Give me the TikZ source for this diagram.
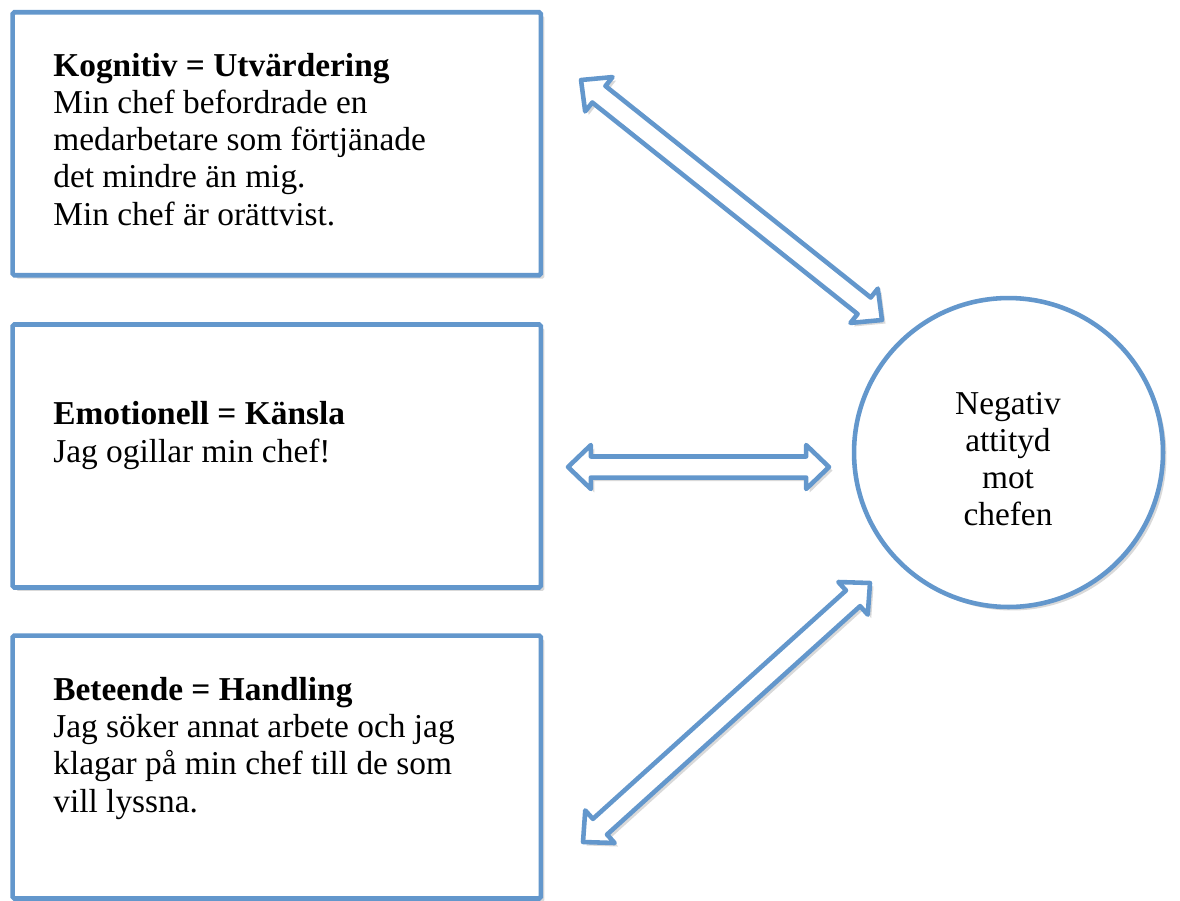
\documentclass[tikz,border=0pt]{standalone}
\usepackage{fontspec}
\setmainfont{Liberation Serif}
\usetikzlibrary{calc,shadows}
\definecolor{boxblue}{RGB}{99,151,204}
\tikzset{
  softshadow/.style={drop shadow={shadow xshift=2pt,shadow yshift=-2pt,opacity=0.3}},
  box/.style={draw=boxblue,line width=2.6pt,rounded corners=1pt,fill=white,
    minimum width=10.57cm,minimum height=5.26cm,softshadow},
  boxtext/.style={anchor=base west,align=left,inner sep=0pt,
    font=\fontsize{19}{21.2}\selectfont},
  attcircle/.style={circle,draw=boxblue,line width=2.6pt,fill=white,
    minimum size=6.18cm,softshadow},
  arrowline/.style={draw=boxblue,line width=2.6pt,fill=white,line join=round,softshadow}
}
% hollow double arrow between two named points
\newcommand{\blockarrow}[2]{%
  \coordinate (ha) at ($(#1)!13pt!(#2)$);
  \coordinate (hb) at ($(#2)!13pt!(#1)$);
  \draw[arrowline] (#1) -- ($(ha)!12.5pt!90:(#2)$) -- ($(ha)!6pt!90:(#2)$)
    -- ($(hb)!6pt!-90:(#1)$) -- ($(hb)!12.5pt!-90:(#1)$) -- (#2)
    -- ($(hb)!12.5pt!90:(#1)$) -- ($(hb)!6pt!90:(#1)$)
    -- ($(ha)!6pt!-90:(#2)$) -- ($(ha)!12.5pt!-90:(#2)$) -- cycle;
}
\begin{document}
\begin{tikzpicture}[x=0.02cm,y=-0.02cm]
  \useasboundingbox (0,0) rectangle (1180,900);

  % the three boxes
  \node[box] (kog) at (276.75,143.75) {};
  \node[box] (emo) at (276.75,456) {};
  \node[box] (bet) at (276.75,767) {};

  % text is placed by the baseline of its last line
  \node[boxtext] (kogtxt) at (53,225) {\textbf{Kognitiv = Utvärdering}\\
    Min chef befordrade en\\ medarbetare som förtjänade\\
    det mindre än mig.\\ Min chef är orättvist.};
  \node[boxtext] (emotxt) at (53,462) {\textbf{Emotionell = Känsla}\\
    Jag ogillar min chef!};
  \node[boxtext] (bettxt) at (53,812) {\textbf{Beteende = Handling}\\
    Jag söker annat arbete och jag\\ klagar på min chef till de som\\
    vill lyssna.};

  % attitude
  \node[attcircle] (att) at (1008.5,452.5) {};
  \node[boxtext,anchor=center,align=center] (atttxt) at (1008,459)
    {Negativ\\ attityd\\ mot\\ chefen};

  % arrows
  \coordinate (k1) at (581,80);
  \coordinate (k2) at (882,320);
  \coordinate (e1) at (568,467);
  \coordinate (e2) at (829,467);
  \coordinate (b1) at (870,583);
  \coordinate (b2) at (583,842);
  \blockarrow{k1}{k2}
  \blockarrow{e1}{e2}
  \blockarrow{b1}{b2}
\end{tikzpicture}
\end{document}
